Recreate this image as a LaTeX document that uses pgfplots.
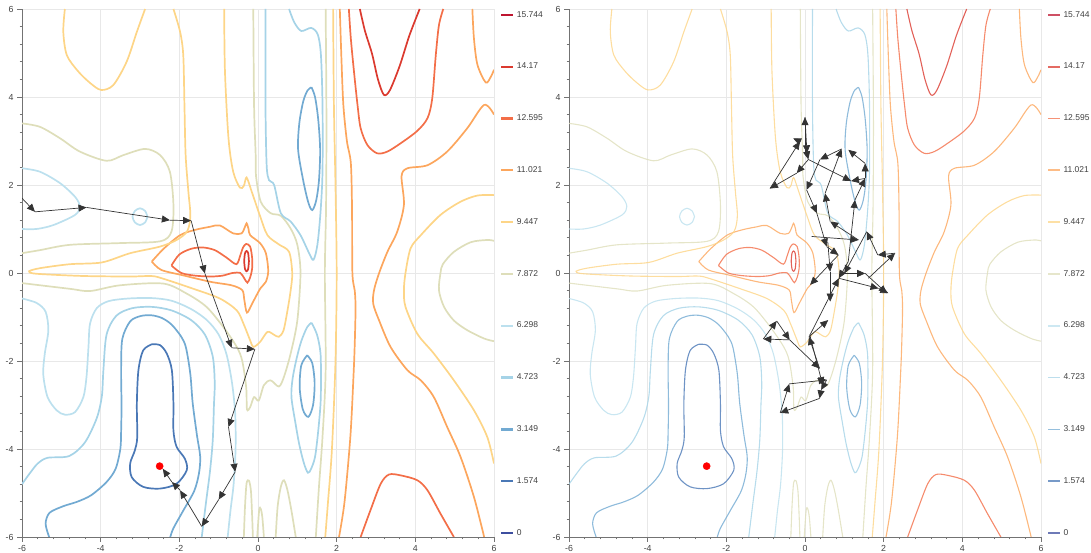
\documentclass[border=0pt]{standalone}
\usepackage{fontspec}
\setmainfont{Liberation Sans}
\usepackage{pgfplots}
\pgfplotsset{compat=1.18}
\usetikzlibrary{arrows.meta}
\definecolor{lv0}{HTML}{3D4E9F}
\definecolor{lv1}{HTML}{4A78B6}
\definecolor{lv2}{HTML}{72AAD2}
\definecolor{lv3}{HTML}{A5D3E7}
\definecolor{lv4}{HTML}{BCE0EE}
\definecolor{lv5}{HTML}{DEDEBA}
\definecolor{lv6}{HTML}{FDD587}
\definecolor{lv7}{HTML}{FCA65D}
\definecolor{lv8}{HTML}{F36E48}
\definecolor{lv9}{HTML}{DB3A2F}
\definecolor{lv10}{HTML}{BE1530}
\tikzset{cl/.style={}, ll/.style={}}
\pgfplotsset{myax/.style={
  scale only axis, width=472pt, height=528pt,
  xmin=-6,xmax=6,ymin=-6,ymax=6,
  xtick={-6,-4,...,6}, ytick={-6,-4,...,6},
  minor tick num=4,
  axis x line*=bottom, axis y line*=left,
  tick align=outside,
  major tick length=5pt, minor tick length=2.5pt,
  axis line style={draw=black!55, line width=0.8pt},
  every tick/.style={draw=black!55, line width=0.6pt},
  grid=major, major grid style={draw=black!9, line width=0.8pt},
  ticklabel style={font=\fontsize{8.8}{10}\selectfont, text=black!75},
  /pgf/number format/assume math mode=true,
  legend style={at={(1,1)}, anchor=north west, xshift=6pt, yshift=-1pt,
     draw=none, fill=none, font=\fontsize{8.5}{10}\selectfont, text=black!75,
     row sep=42.4pt, column sep=1.5pt, inner sep=0pt, nodes={inner sep=1pt}},
  legend cell align=left,
  legend image code/.code={\draw[##1,ll] (0pt,0pt) -- (12pt,0pt);},
}}
\newcommand{\legimgs}{%
\addlegendimage{lv10}\addlegendimage{lv9}\addlegendimage{lv8}\addlegendimage{lv7}%
\addlegendimage{lv6}\addlegendimage{lv5}\addlegendimage{lv4}\addlegendimage{lv3}%
\addlegendimage{lv2}\addlegendimage{lv1}\addlegendimage{lv0}%
\legend{15.744,14.17,12.595,11.021,9.447,7.872,6.298,4.723,3.149,1.574,0}}
\newcommand{\contours}{%
% 14.17
\addplot[lv9,cl,smooth,tension=0.5] coordinates {(2.59,6.0) (2.72,5.5) (2.9,4.98) (3.05,4.4) (3.2,4.05) (3.35,4.15) (3.6,4.7) (3.85,5.4) (4.11,6.0)};
\addplot[lv9,cl,smooth,tension=0.5] coordinates {(-0.23,0.27) (-0.25,0.45) (-0.29,0.5) (-0.33,0.45) (-0.35,0.27) (-0.33,0.09) (-0.29,0.04) (-0.25,0.09) (-0.23,0.27)};
% 12.595
\addplot[lv8,cl,smooth,tension=0.5] coordinates {(2.31,6.0) (2.36,5.33) (2.44,4.58) (2.53,3.82) (2.61,3.29) (2.78,2.91) (3.03,2.72) (3.29,2.76) (3.63,2.95) (4.05,3.23) (4.31,3.52) (4.43,3.97) (4.52,4.95) (4.6,5.63) (4.71,6.0)};
\addplot[lv8,cl,smooth,tension=0.5] coordinates {(-2.2,0.17) (-2.0,0.42) (-1.7,0.55) (-1.4,0.58) (-1.1,0.52) (-0.8,0.35) (-0.55,0.2) (-0.45,0.4) (-0.38,0.58) (-0.3,0.66) (-0.2,0.6) (-0.15,0.35) (-0.15,0.1) (-0.2,-0.1) (-0.27,-0.22) (-0.35,-0.12) (-0.45,0.0) (-0.65,0.0) (-0.9,-0.06) (-1.2,-0.08) (-1.6,-0.06) (-1.95,0.0) (-2.2,0.17)};
\addplot[lv8,cl,smooth,tension=0.5] coordinates {(2.61,-6.0) (2.86,-5.39) (3.12,-4.79) (3.33,-4.58) (3.63,-4.6) (4.05,-4.71) (4.31,-4.94) (4.64,-5.47) (4.98,-6.0)};
% 11.021
\addplot[lv7,cl,smooth,tension=0.5] coordinates {(-2.7,0.26) (-2.4,0.55) (-1.98,0.86) (-1.6,0.98) (-1.22,1.05) (-0.97,1.08) (-0.63,0.9) (-0.42,0.9) (-0.33,1.05) (-0.29,1.13) (-0.24,1.0) (-0.2,0.86) (0.05,0.68) (0.2,0.45) (0.26,0.05) (0.2,-0.2) (0.06,-0.35) (-0.14,-0.68) (-0.28,-0.9) (-0.35,-0.6) (-0.4,-0.39) (-0.67,-0.28) (-1.21,-0.2) (-1.92,-0.05) (-2.46,0.07) (-2.7,0.26)};
\addplot[lv7,cl,smooth,tension=0.5] coordinates {(2.08,6.0) (2.12,4.9) (2.17,3.82) (2.26,3.0) (2.36,2.5) (2.39,1.5) (2.4,0.0) (2.46,-0.4) (2.48,-0.8) (2.46,-1.6) (2.43,-2.3) (2.35,-3.7) (2.2,-5.2) (2.06,-6.0)};
\addplot[lv7,cl,smooth,tension=0.5] coordinates {(6.0,3.6) (5.75,3.82) (5.32,3.29) (4.81,2.76) (4.31,2.45) (3.8,2.38) (3.65,2.2) (3.71,1.55) (3.54,0.94) (3.29,0.48) (3.08,0.0) (2.95,-0.39) (2.93,-0.70) (3.08,-1.08) (3.37,-1.68) (3.8,-2.21) (4.14,-2.44) (4.47,-2.82) (4.81,-3.5) (5.15,-4.18) (5.49,-5.09) (5.75,-6.0)};
\addplot[lv7,cl,smooth,tension=0.5] coordinates {(5.45,6.0) (5.49,5.33) (5.58,4.73) (5.79,4.33) (5.92,4.46) (6.0,4.62)};
% 9.447
\addplot[lv6,cl,smooth,tension=0.5] coordinates {(-4.91,6.0) (-4.95,5.48) (-4.86,4.95) (-4.57,4.58) (-4.27,4.32) (-3.99,4.16) (-3.68,4.27) (-3.34,4.8) (-3.08,5.48) (-2.87,6.0)};
\addplot[lv6,cl,smooth,tension=0.5] coordinates {(-2.15,6.0) (-1.98,5.48) (-1.9,4.95) (-1.87,3.82) (-1.84,2.68) (-1.77,1.85) (-1.72,1.3) (-1.8,0.95) (-2.07,0.75) (-2.49,0.6) (-3.25,0.45) (-3.97,0.24) (-4.78,0.2) (-5.54,0.11) (-5.82,0.04) (-5.71,-0.01) (-5.2,-0.04) (-4.36,-0.07) (-3.25,-0.08) (-2.7,-0.07) (-2.41,-0.13) (-1.64,-0.36) (-0.97,-0.58) (-0.54,-0.85) (-0.37,-1.15) (-0.2,-1.53) (-0.12,-1.68) (0.05,-1.57) (0.24,-1.34) (0.4,-1.4) (0.53,-1.45) (0.65,-1.3) (0.75,-0.85) (0.83,-0.4) (0.87,0.0) (0.79,0.48) (0.53,0.65) (0.24,0.86) (0.05,1.3) (-0.16,1.85) (-0.29,2.17) (-0.36,1.98) (-0.46,1.94) (-0.63,2.3) (-0.75,3.06) (-0.84,4.58) (-0.86,6.0)};
\addplot[lv6,cl,smooth,tension=0.5] coordinates {(1.91,6.0) (1.93,3.8) (1.97,2.0) (2.0,0.0) (1.97,-2.0) (1.88,-4.0) (1.78,-5.2) (1.71,-6.0)};
\addplot[lv6,cl,smooth,tension=0.5] coordinates {(6.0,1.77) (5.58,1.76) (5.15,1.62) (4.64,1.32) (4.14,0.86) (3.88,0.56) (3.75,0.0) (3.71,-0.39) (3.75,-0.77) (4.05,-1.38) (4.47,-1.83) (4.98,-2.44) (5.49,-3.12) (5.83,-3.73) (6.0,-4.33)};
% 7.872
\addplot[lv5,cl,smooth,tension=0.5] coordinates {(-6.0,3.4) (-5.54,3.32) (-5.03,3.06) (-4.53,2.76) (-3.85,2.55) (-3.42,2.68) (-2.87,2.82) (-2.49,2.68) (-2.24,2.3) (-2.15,1.55) (-2.2,0.94) (-2.49,0.72) (-3.5,0.68) (-4.78,0.64) (-5.54,0.52) (-6.0,0.45)};
\addplot[lv5,cl,smooth,tension=0.5] coordinates {(-0.12,6.0) (-0.1,3.8) (-0.06,2.7) (-0.05,2.2) (0.07,1.62) (0.32,1.36) (0.58,1.3) (0.83,1.01) (1.0,0.64) (1.08,0.0) (1.0,-1.08) (0.83,-1.83) (0.66,-2.36) (0.53,-2.58) (0.32,-2.44) (0.15,-2.55) (0.02,-2.9) (-0.1,-2.82) (-0.2,-3.05) (-0.28,-3.1) (-0.3,-2.6) (-0.4,-2.0) (-0.54,-1.68) (-0.88,-1.23) (-1.31,-0.77) (-1.81,-0.47) (-2.41,-0.24) (-3.51,-0.28) (-4.27,-0.41) (-4.78,-0.36) (-6.0,-0.23)};
\addplot[lv5,cl,smooth,tension=0.5] coordinates {(1.72,6.0) (1.74,3.5) (1.73,1.5) (1.7,0.0) (1.72,-2.2) (1.64,-3.73) (1.55,-4.86) (1.47,-6.0)};
\addplot[lv5,cl,smooth,tension=0.5] coordinates {(-0.36,-6.0) (-0.33,-5.3) (-0.29,-4.78) (-0.23,-4.72) (-0.18,-4.95) (-0.15,-5.5) (-0.13,-6.0)};
\addplot[lv5,cl,smooth,tension=0.5] coordinates {(-0.02,-6.0) (0.03,-5.39) (0.07,-5.36) (0.11,-5.55) (0.15,-6.0)};
\addplot[lv5,cl,smooth,tension=0.5] coordinates {(0.45,-6.0) (0.5,-5.3) (0.58,-4.86) (0.66,-4.71) (0.75,-4.94) (0.85,-5.4) (0.96,-6.0)};
\addplot[lv5,cl,smooth,tension=0.5] coordinates {(6.0,0.73) (5.83,0.75) (5.41,0.7) (4.98,0.48) (4.7,0.2) (4.64,0.0) (4.6,-0.39) (4.73,-0.77) (4.98,-1.08) (5.32,-1.3) (5.75,-1.49) (6.0,-1.55)};
% 6.298
\addplot[lv4,cl,smooth,tension=0.5] coordinates {(-6.0,2.38) (-5.54,2.3) (-5.03,2.04) (-4.65,1.73) (-4.53,1.51) (-4.65,1.32) (-5.2,1.09) (-5.63,1.0) (-6.0,1.0)};
\addplot[lv4,cl,smooth,tension=0.5] coordinates {(-2.81,1.28) (-2.87,1.41) (-3.0,1.47) (-3.13,1.41) (-3.19,1.28) (-3.13,1.15) (-3.0,1.09) (-2.87,1.15) (-2.81,1.28)};
\addplot[lv4,cl,smooth,tension=0.5] coordinates {(-6.0,-0.58) (-5.63,-0.68) (-5.4,-0.88) (-5.33,-1.3) (-5.42,-1.83) (-5.46,-2.3) (-5.35,-2.82) (-5.12,-3.12) (-4.91,-3.22) (-4.65,-3.16) (-4.44,-2.82) (-4.36,-2.36) (-4.31,-1.68) (-4.27,-1.15) (-4.1,-0.8) (-3.8,-0.64) (-3.3,-0.58) (-2.7,-0.57) (-2.2,-0.63) (-1.7,-0.82) (-1.3,-1.07) (-1.0,-1.4) (-0.8,-1.85) (-0.66,-2.5) (-0.58,-3.2) (-0.57,-4.0) (-0.62,-4.8) (-0.7,-5.4) (-0.77,-6.0)};
% 4.723
\addplot[lv3,cl,smooth,tension=0.5] coordinates {(-6.0,-4.8) (-5.8,-4.55) (-5.6,-4.33) (-5.35,-4.2) (-4.8,-4.16) (-4.4,-3.85) (-4.1,-3.3) (-3.97,-2.8) (-3.93,-2.2) (-3.85,-1.4) (-3.6,-0.97) (-3.2,-0.8) (-2.7,-0.77) (-2.2,-0.85) (-1.7,-1.07) (-1.35,-1.4) (-1.15,-1.9) (-1.1,-2.5) (-1.12,-3.0) (-1.15,-3.8) (-1.22,-4.5) (-1.32,-5.2) (-1.43,-6.0)};
\addplot[lv3,cl,smooth,tension=0.5] coordinates {(0.79,6.0) (0.92,5.7) (1.1,5.5) (1.35,5.57) (1.52,5.42) (1.6,4.95) (1.64,3.82) (1.64,2.3) (1.59,1.39) (1.51,0.64) (1.41,0.3) (1.3,0.45) (1.08,0.86) (0.83,1.17) (0.58,1.36) (0.41,2.0) (0.28,2.11) (0.22,2.45) (0.19,3.82) (0.19,6.0)};
\addplot[lv3,cl,smooth,tension=0.5] coordinates {(1.36,-1.13) (1.5,-1.4) (1.59,-1.83) (1.6,-2.5) (1.59,-2.97) (1.53,-3.6) (1.45,-4.18) (1.35,-4.45) (1.27,-4.54) (1.17,-4.33) (1.05,-3.9) (0.95,-3.4) (0.85,-2.82) (0.88,-2.4) (0.98,-1.95) (1.1,-1.55) (1.25,-1.23) (1.36,-1.13)};
% 3.149
\addplot[lv2,cl,smooth,tension=0.5] coordinates {(-5.31,-6.0) (-5.4,-5.7) (-5.3,-5.45) (-4.95,-5.3) (-4.6,-5.2) (-4.24,-5.05) (-3.85,-4.75) (-3.62,-4.45) (-3.5,-4.0) (-3.48,-3.6) (-3.47,-3.0) (-3.48,-2.2) (-3.45,-1.5) (-3.25,-1.1) (-2.99,-0.98) (-2.72,-0.96) (-2.45,-1.02) (-2.2,-1.17) (-1.95,-1.45) (-1.83,-1.7) (-1.72,-2.3) (-1.66,-2.96) (-1.55,-3.7) (-1.47,-4.17) (-1.5,-4.55) (-1.62,-4.95) (-1.9,-5.4) (-2.15,-5.8) (-2.23,-6.0)};
\addplot[lv2,cl,smooth,tension=0.5] coordinates {(1.36,4.22) (1.45,4.0) (1.53,3.5) (1.58,2.8) (1.55,2.1) (1.48,1.65) (1.38,1.43) (1.28,1.6) (1.15,2.1) (1.02,2.8) (1.05,3.4) (1.15,3.9) (1.26,4.15) (1.36,4.22)};
\addplot[lv2,cl,smooth,tension=0.5] coordinates {(1.25,-1.87) (1.38,-2.05) (1.44,-2.5) (1.4,-3.0) (1.28,-3.27) (1.14,-3.1) (1.06,-2.6) (1.1,-2.1) (1.25,-1.87)};
% 1.574
\addplot[lv1,cl,smooth,tension=0.5] coordinates {(-2.7,-1.62) (-2.92,-1.76) (-3.04,-2.21) (-3.08,-2.97) (-3.07,-3.73) (-3.13,-4.03) (-3.25,-4.33) (-3.21,-4.64) (-2.92,-4.86) (-2.49,-4.9) (-2.07,-4.79) (-1.81,-4.48) (-1.86,-4.22) (-2.07,-3.95) (-2.15,-3.58) (-2.15,-2.97) (-2.19,-2.21) (-2.32,-1.83) (-2.49,-1.64) (-2.7,-1.62)};
\addplot[only marks, mark=*, mark size=3.6pt, red, mark options={draw=red}] coordinates {(-2.5,-4.39)};
}
\tikzset{arr/.style={-{Triangle[length=8pt,width=7pt]}, draw=black!80, fill=black, line width=0.7pt}}
\begin{document}
\begin{tikzpicture}
\useasboundingbox (-22pt,-16pt) rectangle (1069pt,537pt);
\begin{axis}[myax, at={(0pt,0pt)}, anchor=south west,
  /tikz/cl/.style={line width=1.7pt}, /tikz/ll/.style={line width=2.2pt}]
\legimgs
\contours
\addplot[arr, quiver={u=\thisrow{ex}-\thisrow{x}, v=\thisrow{ey}-\thisrow{y}}] table {
x y ex ey
-6.0 1.7 -5.67 1.39
-5.67 1.39 -4.36 1.49
-4.36 1.49 -2.24 1.2
-2.24 1.2 -1.7 1.19
-1.7 1.19 -1.35 -0.01
-1.35 -0.01 -0.67 -1.7
-0.67 -1.7 -0.08 -1.73
-0.08 -1.73 -0.75 -3.5
-0.75 -3.5 -0.58 -4.52
-0.58 -4.52 -1.0 -5.15
-1.0 -5.15 -1.43 -5.76
-1.43 -5.76 -1.98 -4.94
-1.98 -4.94 -2.19 -4.75
-2.19 -4.75 -2.42 -4.45
};
\end{axis}
\begin{axis}[myax, at={(547pt,0pt)}, anchor=south west,
  /tikz/cl/.style={line width=1.1pt, opacity=0.8}, /tikz/ll/.style={line width=1.8pt, opacity=0.75}]
\legimgs
\contours
\addplot[arr, quiver={u=\thisrow{ex}-\thisrow{x}, v=\thisrow{ey}-\thisrow{y}}] table {
x y ex ey
0.37 -2.85 -0.63 -3.18
-0.63 -3.18 -0.40 -2.52
-0.40 -2.52 0.55 -2.43
0.55 -2.43 0.41 -2.66
0.41 -2.66 0.37 -2.85
-0.39 -1.52 0.37 -2.17
0.37 -2.17 0.10 -1.45
0.12 -1.40 0.45 -2.55
-0.39 -1.52 -1.06 -1.50
-1.06 -1.50 -0.72 -1.09
-0.72 -1.09 -0.39 -1.52
0.10 -1.45 0.59 -1.07
0.12 -1.42 0.86 -0.12
0.86 -0.12 1.87 -0.35
1.87 -0.35 2.12 -0.46
1.53 -0.01 2.08 -0.46
1.00 -0.01 1.53 -0.01
1.61 -0.12 2.29 0.45
2.29 0.45 1.85 0.41
1.85 0.41 1.57 0.94
1.57 0.94 1.00 -0.01
0.64 0.03 0.64 -0.65
0.58 0.70 0.64 0.03
0.85 0.41 0.13 -0.27
0.17 0.83 1.36 0.75
1.36 0.75 0.64 1.17
0.64 1.17 0.51 1.81
1.10 0.26 1.27 1.66
1.27 1.66 1.53 2.15
1.53 2.15 1.53 2.49
1.53 2.49 1.10 2.80
1.53 2.15 1.17 2.09
0.085 2.58 1.17 2.09
0.51 1.81 0.93 2.82
0.93 2.82 0.38 2.58
0.38 2.58 0.04 1.89
0.04 1.89 0.30 1.36
0.30 1.36 0.55 0.60
0.55 0.60 0.85 0.41
0.00 2.70 0.00 3.54
0.00 3.54 0.05 2.72
0.05 2.72 0.085 2.58
0.085 2.58 -0.21 2.27
-0.21 2.27 -0.89 1.92
-0.89 1.92 -0.13 2.99
-0.13 2.99 -0.30 3.06
1.10 0.26 0.86 -0.12
};
\end{axis}
\end{tikzpicture}
\end{document}
